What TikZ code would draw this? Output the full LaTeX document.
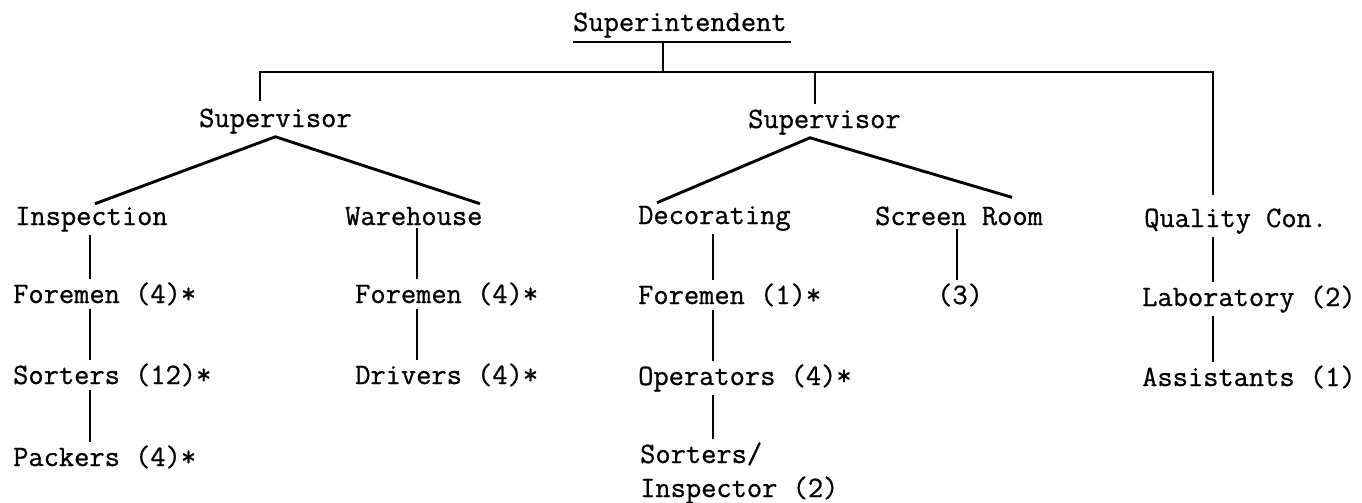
\documentclass[tikz,border=0pt]{standalone}
\usepackage{fontspec}
\newfontfamily\twfont{Latin Modern Mono}[FakeBold=0.8]
\begin{document}
\begin{tikzpicture}[x=1pt,y=-1pt,
  lbl/.style={anchor=base west, inner xsep=0pt, inner ysep=3pt, font=\twfont\fontsize{29.6}{34}\selectfont},
  ln/.style={line width=2.9pt, line cap=butt},
  ul/.style={line width=1.8pt}]
\useasboundingbox (0,0) rectangle (1362,503);
% column coordinates
\coordinate (cI) at (90,0);
\coordinate (cW) at (417,0);
\coordinate (cD) at (713,0);
\coordinate (cS) at (957,0);
\coordinate (cQ) at (1213,0);
\coordinate (cL) at (260,0);
\coordinate (cM) at (815,0);
\coordinate (cT) at (663,0);
\coordinate (hbar) at (0,72);
\coordinate (ap2) at (810,0);
\coordinate (d1) at (95,0);
\coordinate (d2) at (480,0);
\coordinate (d3) at (657,0);
\coordinate (d4) at (1012,0);
% nodes
\node[lbl] (sup) at (573,31) {Superintendent};
\node[lbl] (sv1) at (199,127) {Supervisor};
\node[lbl] (sv2) at (748,128) {Supervisor};
\node[lbl] (insp) at (15,225) {Inspection};
\node[lbl] (ware) at (345,225) {Warehouse};
\node[lbl] (deco) at (638,224) {Decorating};
\node[lbl] (scr) at (875,225) {Screen Room};
\node[lbl] (qc) at (1144,227) {Quality Con.};
\node[lbl] (f1) at (13,303) {Foremen (4)*};
\node[lbl] (f2) at (355,303) {Foremen (4)*};
\node[lbl] (f3) at (638,304) {Foremen (1)*};
\node[lbl] (n3) at (937,304) {(3)};
\node[lbl] (lab) at (1142,306) {Laboratory (2)};
\node[lbl] (so1) at (13,384) {Sorters (12)*};
\node[lbl] (dr) at (355,384) {Drivers (4)*};
\node[lbl] (op) at (638,385) {Operators (4)*};
\node[lbl] (as) at (1142,386) {Assistants (1)};
\node[lbl] (pk) at (13,466) {Packers (4)*};
\node[lbl] (so2) at (640,463) {Sorters/};
\node[lbl] (ins2) at (640,497) {Inspector (2)};
% underline
\draw[ul] ([yshift=-1pt]sup.south west) -- ([xshift=4pt,yshift=-1pt]sup.south east);
% top bar
\draw[ln] ([yshift=-1pt]sup.south -| cT) -- (hbar -| cT);
\draw[ln] ([yshift=4pt]sv1.north -| cL) -- (hbar -| cL) -- (hbar -| cQ) -- ([yshift=10pt]qc.north -| cQ);
\draw[ln] (hbar -| cM) -- ([yshift=2pt]sv2.north -| cM);
% diagonals
\draw[ln] (insp.north -| d1) -- (sv1.south) -- (ware.north -| d2);
\draw[ln] (deco.north -| d3) -- (sv2.south -| ap2) -- ([yshift=6pt]scr.north -| d4);
% verticals
\draw[ln] (insp.south -| cI) -- (f1.north -| cI);
\draw[ln] (f1.south -| cI) -- (so1.north -| cI);
\draw[ln] (so1.south -| cI) -- (pk.north -| cI);
\draw[ln] (ware.south -| cW) -- (f2.north -| cW);
\draw[ln] (f2.south -| cW) -- (dr.north -| cW);
\draw[ln] (deco.south -| cD) -- (f3.north -| cD);
\draw[ln] (f3.south -| cD) -- (op.north -| cD);
\draw[ln] (op.south -| cD) -- (so2.north -| cD);
\draw[ln] (scr.south -| cS) -- (n3.north -| cS);
\draw[ln] (qc.south -| cQ) -- (lab.north -| cQ);
\draw[ln] (lab.south -| cQ) -- (as.north -| cQ);
\end{tikzpicture}
\end{document}
